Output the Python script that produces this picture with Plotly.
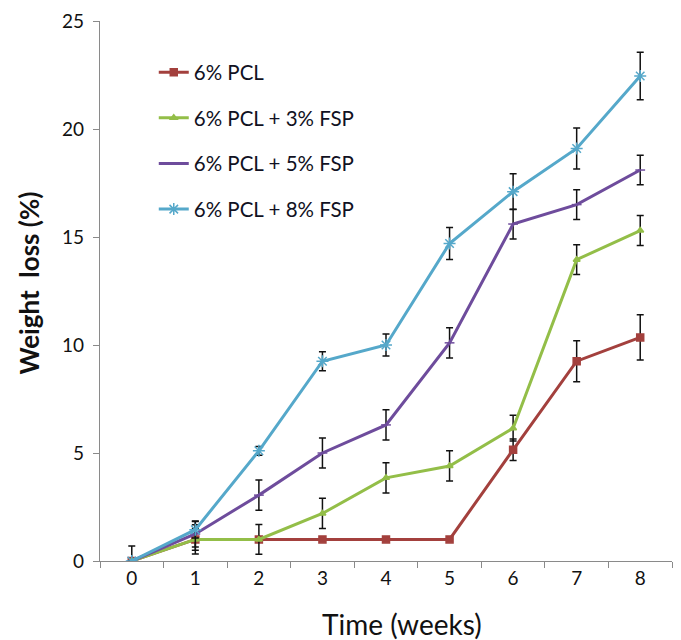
import plotly.graph_objects as go

weeks = ["0", "1", "2", "3", "4", "5", "6", "7", "8"]

series_names = ["6% PCL", "6% PCL + 3% FSP", "6% PCL + 5% FSP", "6% PCL + 8% FSP"]

pcl = [0, 1.0, 1.0, 1.0, 1.0, 1.0, 5.15, 9.25, 10.35]
pcl_err = [0.7, 0.68, 0, 0, 0, 0, 0.5, 0.95, 1.05]

fsp3 = [0, 1.0, 1.0, 2.2, 3.85, 4.4, 6.15, 13.95, 15.3]
fsp3_err = [0, 0.5, 0.69, 0.7, 0.7, 0.7, 0.6, 0.69, 0.69]

fsp5 = [0, 1.25, 3.05, 5.0, 6.3, 10.1, 15.6, 16.5, 18.1]
fsp5_err = [0, 0.6, 0.7, 0.7, 0.7, 0.7, 0.69, 0.69, 0.68]

fsp8 = [0, 1.45, 5.1, 9.25, 10.0, 14.7, 17.1, 19.1, 22.45]
fsp8_err = [0, 0.38, 0.2, 0.44, 0.51, 0.74, 0.83, 0.95, 1.1]

values = [pcl, fsp3, fsp5, fsp8]
errors = [pcl_err, fsp3_err, fsp5_err, fsp8_err]
colors = ["#A3403D", "#93BE48", "#6E4C9C", "#55A8CA"]
symbols = ["square", "triangle-up", "line-ew", "asterisk-open"]
sizes = [7, 6, 7, 10]

FONT = "Lato, 'Open Sans', sans-serif"
INK = "#111111"

fig = go.Figure()
for name, ys, err, col, sym, sz, i in zip(series_names, values, errors, colors, symbols, sizes, range(4)):
    fig.add_trace(go.Scatter(
        x=weeks, y=ys, name=name, mode="lines+markers",
        legendgroup=f"g{i}",
        line=dict(color=col, width=3),
        marker=dict(symbol=sym, size=sz, color=col,
                    line=dict(color=col, width=1.5)),
        error_y=dict(type="data", array=err, visible=True,
                     color=INK, thickness=1.5, width=3.5),
    ))

fig.update_layout(
    width=681, height=640,
    margin=dict(l=100, r=9, t=18, b=79),
    paper_bgcolor="white", plot_bgcolor="white",
    font=dict(family=FONT, color=INK),
    showlegend=True,
    legend=dict(
        x=0.094, y=0.942, xanchor="left", yanchor="top",
        bgcolor="rgba(0,0,0,0)",
        font=dict(size=20.5, family=FONT, color="#111122"),
        tracegroupgap=16,
        itemwidth=30,
    ),
    xaxis=dict(
        type="category", tickson="boundaries",
        range=[-0.5, 8.5],
        showline=True, linecolor="#8A8A8A", linewidth=1.2,
        ticks="outside", ticklen=6, tickcolor="#8A8A8A",
        showgrid=False, zeroline=False,
        tickfont=dict(size=19, family=FONT, color=INK),
    ),
    yaxis=dict(
        range=[0, 25], tickvals=[0, 5, 10, 15, 20, 25],
        showline=True, linecolor="#8A8A8A", linewidth=1.2,
        ticks="outside", ticklen=6, tickcolor="#8A8A8A",
        showgrid=False, zeroline=False,
        tickfont=dict(size=19, family=FONT, color=INK),
        ticklabelstandoff=5,
    ),
    annotations=[
        dict(
            text="Weight\u00a0\u00a0loss\u00a0(%)", textangle=-90,
            xref="paper", yref="paper", x=-0.124, y=0.514,
            xanchor="center", yanchor="middle", showarrow=False,
            font=dict(size=26, family=FONT, color=INK, weight="bold"),
        ),
        dict(
            text="Time (weeks)",
            xref="paper", yref="paper", x=0.528, y=-0.116,
            xanchor="center", yanchor="middle", showarrow=False,
            font=dict(size=28, family=FONT, color=INK),
        ),
    ],
)

fig.write_html("out.html")
